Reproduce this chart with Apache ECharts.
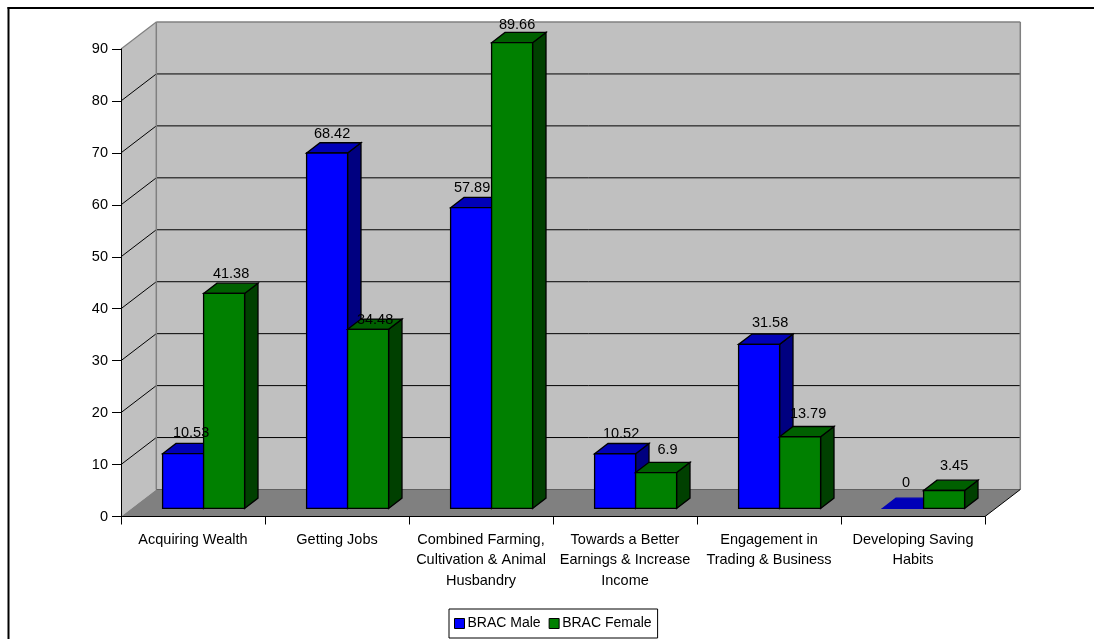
<!DOCTYPE html>
<html>
<head>
<meta charset="utf-8">
<style>html,body{margin:0;padding:0;background:#fff}#c{width:1094px;height:639px}</style>
<script src="https://cdn.jsdelivr.net/npm/echarts@6/dist/echarts.min.js"></script>
</head>
<body>
<div id="c"></div>
<script>
var categories = ['Acquiring Wealth','Getting Jobs','Combined Farming,\nCultivation & Animal\nHusbandry','Towards a Better\nEarnings & Increase\nIncome','Engagement in\nTrading & Business','Developing Saving\nHabits'];
var maleValues = [10.53,68.42,57.89,10.52,31.58,0];
var femaleValues = [41.38,34.48,89.66,6.9,13.79,3.45];
var maleLabelNudge = [[8,-10],[5,-9],[1,-9],[6,-9],[11,-11],[3,-15]];
var femaleLabelNudge = [[7,-9],[7,1],[5,-7],[11.5,-12],[8,-13],[10,-14]];
var yTicks = [0,10,20,30,40,50,60,70,80,90];

var FONT = 'Liberation Sans';
var WALL_DX = 35.3, WALL_DY = -27;
var BAR_NEAR = 0.3, BAR_FAR = 0.68;
var BAR_W_RATIO = 41/144;

var chart = echarts.init(document.getElementById('c'), null, {renderer:'canvas'});

function poly(points, fill, stroke, lw){
  return {type:'polygon', shape:{points:points}, style:{fill:fill, stroke:stroke||null, lineWidth:lw||0, lineJoin:'miter'}};
}
function line(a,b,color,lw){
  return {type:'line', shape:{x1:a[0],y1:a[1],x2:b[0],y2:b[1]}, style:{stroke:color,lineWidth:lw,fill:null}};
}

function renderWalls(params, api){
  var n = categories.length;
  var bl = api.coord([0,0]);
  var left = bl[0] - api.size([1,0])[0]/2;
  var right = left + api.size([1,0])[0]*n;
  var base = bl[1];
  var top = api.coord([0,90])[1];
  var dx = WALL_DX, dy = WALL_DY;
  var kids = [];
  kids.push(poly([[left+dx,top+dy],[right+dx,top+dy],[right+dx,base+dy],[left+dx,base+dy]],'#c0c0c0'));
  kids.push(poly([[left,top],[left+dx,top+dy],[left+dx,base+dy],[left,base]],'#c0c0c0'));
  kids.push(poly([[left,base],[right,base],[right+dx,base+dy],[left+dx,base+dy]],'#808080'));
  yTicks.forEach(function(t){
    if(t===0||t===90) return;
    var y = api.coord([0,t])[1];
    kids.push(line([left,y],[left+dx,y+dy],'#000',1));
    kids.push(line([left+dx,y+dy],[right+dx,y+dy],'#000',1));
  });
  var g='#808080';
  kids.push(line([left,top],[left+dx,top+dy],g,1.2));
  kids.push(line([left+dx,top+dy],[right+dx,top+dy],g,1.5));
  kids.push(line([right+dx,top+dy],[right+dx,base+dy],g,1.5));
  kids.push(line([left+dx,top+dy],[left+dx,base+dy],g,1.5));
  kids.push(line([left+dx,base+dy],[right+dx,base+dy],'#606060',1.2));
  kids.push(line([right,base],[right+dx,base+dy],'#000',1));
  return {type:'group', children:kids};
}

function barRenderer(sign, colors){
  return function(params, api){
    var i = api.value(0), v = api.value(1);
    var c0 = api.coord([i,0]), c1 = api.coord([i,v]);
    var bw = api.size([1,0])[0]*BAR_W_RATIO;
    var nx = WALL_DX*BAR_NEAR, ny = WALL_DY*BAR_NEAR;
    var sx = WALL_DX*(BAR_FAR-BAR_NEAR), sy = WALL_DY*(BAR_FAR-BAR_NEAR);
    var xc = c0[0]+nx;
    var x0 = sign<0 ? xc-bw : xc, x1 = x0+bw;
    var yb = c0[1]+ny, yt = c1[1]+ny;
    var kids = [];
    var st = '#000', lw = 1.3;
    kids.push(poly([[x1,yt],[x1+sx,yt+sy],[x1+sx,yb+sy],[x1,yb]],colors[1],st,lw));
    kids.push(poly([[x0,yt],[x0+sx,yt+sy],[x1+sx,yt+sy],[x1,yt]],colors[2],v===0?colors[2]:st,lw));
    if(v!==0) kids.push(poly([[x0,yt],[x1,yt],[x1,yb],[x0,yb]],colors[0],st,lw));
    return {type:'group', children:kids};
  };
}
function labelRenderer(sign, nudges){
  return function(params, api){
    var i = api.value(0), v = api.value(1);
    var c0 = api.coord([i,0]), c1 = api.coord([i,v]);
    var bw = api.size([1,0])[0]*BAR_W_RATIO;
    var xc = c0[0]+WALL_DX*BAR_NEAR + sign*bw/2;
    var ytop = c1[1]+WALL_DY*BAR_FAR;
    var nudge = nudges[i];
    return {type:'text', z2:100, style:{
      x:xc+nudge[0], y:ytop+nudge[1], text:String(v), fill:'#000',
      font:'14.5px "'+FONT+'"', align:'center', verticalAlign:'middle'
    }};
  };
}
function rows(vals){ return vals.map(function(v,i){return [i,v];}); }

var option = {
  animation:false,
  backgroundColor:'#fff',
  textStyle:{fontFamily:FONT},
  graphic:[
    {type:'line', shape:{x1:7.5,y1:8,x2:1094,y2:8}, style:{stroke:'#000',lineWidth:2}, z:10},
    {type:'line', shape:{x1:8.5,y1:7,x2:8.5,y2:639}, style:{stroke:'#000',lineWidth:2}, z:10}
  ],
  grid:{left:121, top:49, width:864, height:467.5, containLabel:false},
  xAxis:{type:'category', data:categories, boundaryGap:true,
    axisLine:{show:true,lineStyle:{color:'#000',width:1}},
    axisTick:{show:true,alignWithLabel:false,length:8,lineStyle:{color:'#000'}},
    axisLabel:{interval:0,color:'#000',fontFamily:FONT,fontSize:14.5,lineHeight:20.5,margin:13},
    z:5
  },
  yAxis:{type:'value', min:0, max:90, interval:10,
    axisLine:{show:true,lineStyle:{color:'#000',width:1}},
    axisTick:{show:true,length:9,lineStyle:{color:'#000'}},
    axisLabel:{color:'#000',fontFamily:FONT,fontSize:14.5,margin:13,padding:[0,0,2,0]},
    splitLine:{show:false},
    z:5
  },
  legend:{
    left:449, top:609, orient:'horizontal',
    padding:[7.5,6,7.5,5], itemGap:8, itemWidth:10, itemHeight:10,
    backgroundColor:'#fff', borderColor:'#000', borderWidth:1,
    textStyle:{color:'#000',fontFamily:FONT,fontSize:14,padding:[0,0,0,-2]},
    icon:'rect',
    itemStyle:{borderColor:'#000',borderWidth:1},
    data:['BRAC Male','BRAC Female']
  },
  series:[
    {type:'custom', name:'walls', coordinateSystem:'cartesian2d', renderItem:renderWalls, data:[[0,0]], silent:true, z:1, clip:false},
    {type:'custom', name:'BRAC Male', coordinateSystem:'cartesian2d', itemStyle:{color:'#0000ff'}, renderItem:barRenderer(-1,['#0000ff','#000080','#0000b8']), data:rows(maleValues), z:2, encode:{x:0,y:1}, clip:false},
    {type:'custom', name:'BRAC Female', coordinateSystem:'cartesian2d', itemStyle:{color:'#008000'}, renderItem:barRenderer(1,['#008000','#004000','#006000']), data:rows(femaleValues), z:3, encode:{x:0,y:1}, clip:false},
    {type:'custom', name:'maleLabels', coordinateSystem:'cartesian2d', renderItem:labelRenderer(-1,maleLabelNudge), data:rows(maleValues), z:8, clip:false, silent:true},
    {type:'custom', name:'femaleLabels', coordinateSystem:'cartesian2d', renderItem:labelRenderer(1,femaleLabelNudge), data:rows(femaleValues), z:8, clip:false, silent:true}
  ]
};
chart.setOption(option);
</script>
</body>
</html>
